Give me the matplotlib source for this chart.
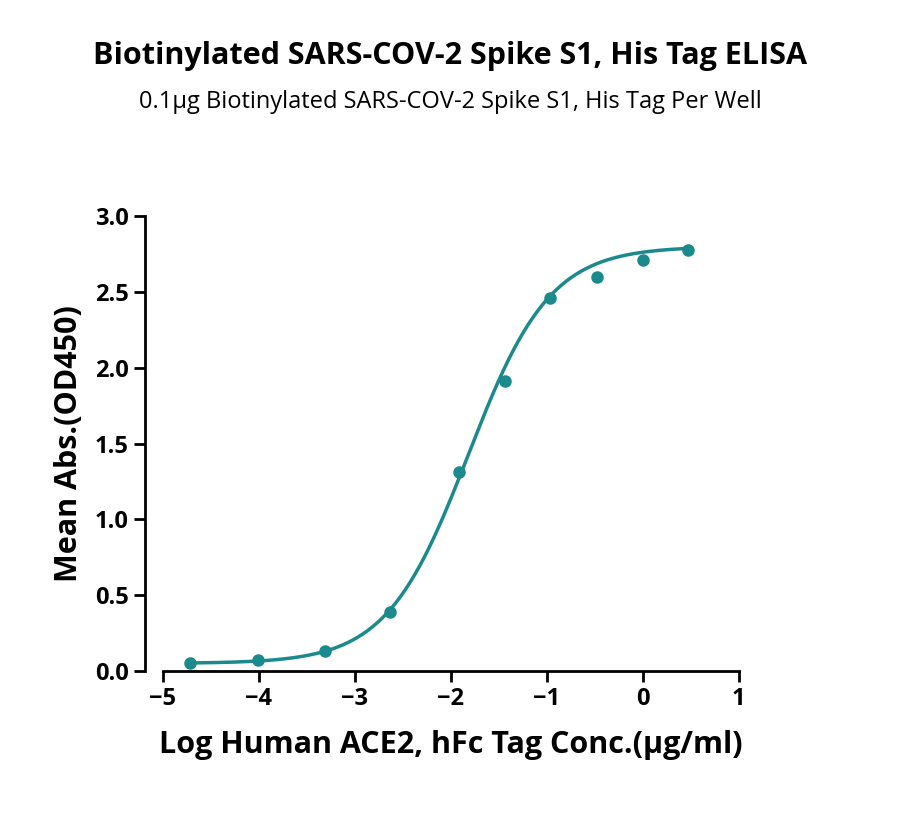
import matplotlib.pyplot as plt
import numpy as np

plt.rcParams["font.family"] = ["Open Sans", "DejaVu Sans"]

log_conc = [-4.72, -4.01, -3.31, -2.63, -1.92, -1.44, -0.97, -0.48, 0.0, 0.47]
mean_abs = [0.05, 0.07, 0.13, 0.39, 1.31, 1.91, 2.46, 2.60, 2.71, 2.78]

# 4PL fit parameters (bottom, top, logEC50, hill)
fit_bottom, fit_top, fit_ec50, fit_hill = 0.05, 2.80, -1.82, 1.02

color = "#1b8a8c"

fig = plt.figure(figsize=(9, 8.21), dpi=100)
ax = fig.add_axes([0.181, 0.1827, 0.64, 0.554])

xs = np.linspace(min(log_conc), max(log_conc), 300)
ys = fit_bottom + (fit_top - fit_bottom) / (1 + 10 ** ((fit_ec50 - xs) * fit_hill))
ax.plot(xs, ys, color=color, lw=2.5)
ax.plot(log_conc, mean_abs, "o", color=color, ms=8)

ax.set_xlim(-5, 1)
ax.set_ylim(0, 3)
ax.set_xticks(range(-5, 2))
ax.set_yticks(np.arange(0, 3.01, 0.5))
ax.set_yticklabels([f"{v:.1f}" for v in np.arange(0, 3.01, 0.5)])
ax.spines["top"].set_visible(False)
ax.spines["right"].set_visible(False)
ax.spines["left"].set_position(("outward", 13))
for s in ("left", "bottom"):
    ax.spines[s].set_linewidth(2)
ax.tick_params(width=2, length=8, labelsize=17)
for lab in ax.get_xticklabels() + ax.get_yticklabels():
    lab.set_fontweight("bold")

ax.set_xlabel("Log Human ACE2, hFc Tag Conc.(μg/ml)", fontsize=22, fontweight="bold", labelpad=14)
ax.set_ylabel("Mean Abs.(OD450)", fontsize=22, fontweight="bold", labelpad=8)

fig.text(0.5, 0.922, "Biotinylated SARS-COV-2 Spike S1, His Tag ELISA",
         ha="center", fontsize=22, fontweight="bold")
fig.text(0.5, 0.868, "0.1μg Biotinylated SARS-COV-2 Spike S1, His Tag Per Well",
         ha="center", fontsize=17)

fig.savefig("out.png", dpi=100)
